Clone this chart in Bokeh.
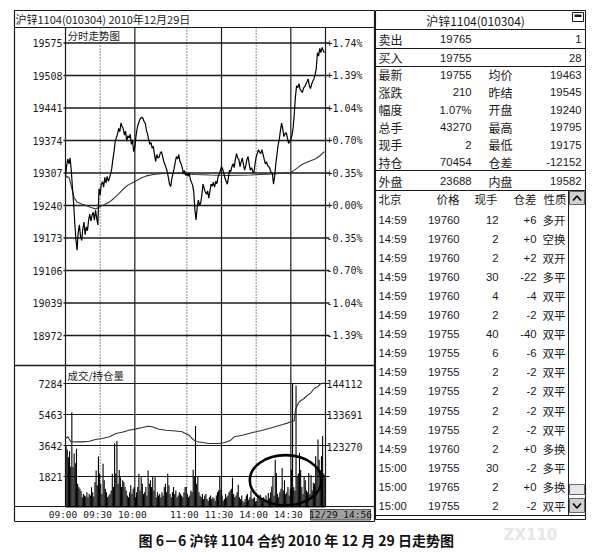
from bokeh.plotting import figure
from bokeh.models import Range1d, ColumnDataSource
from bokeh.core.properties import value
from bokeh.embed import file_html
from bokeh.resources import INLINE

# ---------------- data ----------------
header_text = "沪锌1104(010304) 2010年12月29日"
price_title = "分时走势图"
vol_title = "成交/持仓量"
price_levels = [19575, 19508, 19441, 19374, 19307, 19240, 19173, 19106, 19039, 18972]
pct_labels = ["+1.74%", "+1.39%", "+1.04%", "+0.70%", "+0.35%", "+0.00%",
              "-0.35%", "-0.70%", "-1.04%", "-1.39%"]
vol_levels = [7284, 5463, 3642, 1821]
oi_levels = [144112, 133691, 123270]
time_ticks = [0, 30, 60, 105, 135, 165, 195]          # trading minutes since 09:00
time_labels = ["09:00", "09:30", "10:00", "11:00", "11:30", "14:00", "14:30"]
grid_dotted = [30, 105, 165]
grid_solid = [60, 135, 195]
session_minutes = 225
last_stamp = "12/29 14:56"

# minute price (trading minutes, price)
price_t = list(range(0, 225))
price_v = [
    19300, 19322, 19336, 19326, 19338, 19312, 19276, 19245, 19205, 19170,
    19148, 19185, 19200, 19176, 19168, 19192, 19206, 19180, 19196, 19188,
    19210, 19222, 19208, 19220, 19226, 19210, 19230, 19214, 19200, 19275,
    19262, 19284, 19289, 19278, 19298, 19286, 19300, 19290, 19296, 19305,
    19316, 19335, 19351, 19372, 19380, 19387, 19399, 19392, 19410, 19403,
    19398, 19385, 19393, 19372, 19384, 19379, 19387, 19366, 19375, 19351,
    19360, 19383, 19399, 19408, 19415, 19420, 19422, 19420, 19413, 19410,
    19395, 19387, 19375, 19366, 19370, 19358, 19362, 19345, 19331, 19345,
    19338, 19340, 19348, 19351, 19342, 19331, 19325, 19318, 19310, 19298,
    19284, 19279, 19295, 19306, 19316, 19330, 19341, 19336, 19345, 19331,
    19326, 19318, 19306, 19312, 19302, 19306, 19300, 19307, 19295, 19288,
    19282, 19268, 19230, 19210, 19238, 19251, 19240, 19245, 19262, 19284,
    19275, 19268, 19263, 19270, 19255, 19270, 19284, 19280, 19288, 19278,
    19290, 19285, 19299, 19305, 19312, 19320, 19315, 19307, 19296, 19290,
    19284, 19298, 19313, 19310, 19320, 19326, 19318, 19335, 19347, 19338,
    19335, 19320, 19330, 19338, 19325, 19313, 19322, 19335, 19341, 19325,
    19313, 19318, 19310, 19307, 19325, 19340, 19347, 19355, 19350, 19347,
    19355, 19345, 19335, 19326, 19330, 19322, 19320, 19315, 19308, 19307,
    19284, 19300, 19326, 19345, 19365, 19376, 19395, 19410, 19398, 19382,
    19388, 19390, 19380, 19368, 19372, 19376, 19385, 19400, 19430, 19465,
    19487, 19483, 19491, 19480, 19476, 19473, 19482, 19485, 19490, 19495,
    19501, 19487, 19481, 19490, 19496, 19501, 19510, 19522, 19555, 19548,
    19564, 19555, 19566, 19560, 19555,
]

# average price line
avg_t = [0, 3, 5, 7.5, 10, 14, 18, 22, 26, 30, 34, 38, 42, 46, 50, 54, 58, 62,
         66, 70, 76, 84, 100, 112, 125, 140, 160, 180, 195, 198, 201, 205, 210,
         216, 220, 224]
avg_v = [19300, 19298, 19280, 19256, 19247, 19243, 19240, 19236, 19233, 19238,
         19242, 19247, 19255, 19264, 19274, 19282, 19287, 19292, 19297, 19301,
         19304, 19306, 19306, 19304, 19303, 19302, 19303, 19305, 19308, 19313,
         19318, 19325, 19330, 19336, 19342, 19351]

# volume per minute
volume = [
    3600, 3400, 2950, 3300, 2400, 5600, 2380, 3170, 2600, 3450,
    1390, 1200, 1100, 950, 600, 800, 700, 650, 900, 600,
    800, 700, 1190, 900, 650, 1500, 2180, 1300, 3000, 2000,
    1400, 800, 2570, 1600, 1100, 900, 600, 700, 800, 1000,
    1980, 1200, 3760, 2000, 3900, 1400, 2200, 1780, 1200, 1600,
    1500, 1200, 1000, 700, 600, 900, 1300, 800, 1100, 1200,
    600, 900, 1200, 1980, 1000, 1780, 1400, 800, 900, 1200,
    700, 2180, 1400, 1600, 1200, 1800, 1000, 1780, 600, 900,
    700, 800, 600, 900, 700, 1200, 1400, 900, 1980, 1300,
    800, 600, 900, 1200, 800, 1000, 600, 700, 900, 800,
    700, 600, 900, 1200, 1200, 800, 600, 700, 1000, 900,
    2220, 1800, 4790, 1400, 1800, 900, 700, 600, 800, 500,
    700, 800, 500, 400, 600, 700, 500, 600, 550, 400,
    700, 900, 1000, 1800, 1050, 700, 400, 500, 800, 600,
    700, 900, 1000, 1100, 1750, 800, 600, 700, 900, 1330,
    600, 500, 700, 400, 300, 500, 700, 800, 450, 600,
    1000, 500, 550, 600, 350, 400, 700, 550, 750, 500,
    400, 600, 450, 700, 450, 850, 550, 900, 1230, 1820,
    700, 2810, 2020, 800, 600, 900, 1100, 2320, 1000, 1600,
    800, 900, 1200, 700, 1100, 2220, 7270, 1200, 1000, 7170,
    1800, 2000, 3210, 2200, 1200, 800, 1800, 1600, 1000, 900,
    2020, 800, 1900, 1000, 1450, 1400, 3010, 2200, 4000, 2800,
    2200, 3010, 4200, 2000, 1900,
]
vol_t = [i + 0.5 for i in range(len(volume))]

# open interest line
oi_t = [0, 2, 4.6, 9, 15, 20.5, 26, 32, 38, 43.6, 49, 55, 61, 66.6, 71, 75, 81,
        87, 95, 101, 104, 107, 110, 113, 124, 133, 138, 143, 146, 153, 162,
        170.5, 179, 188, 192, 195, 197.9, 199.3, 202.2, 206.5, 209.4, 212.3,
        215.2, 218, 221, 224]
oi_v = [125900, 126480, 124830, 124800, 124800, 125000, 125590, 125920, 126480,
        127570, 128000, 128660, 129100, 129560, 129990, 129800, 128990, 128660,
        128400, 128130, 127500, 127010, 125700, 124900, 124260, 124260, 124600,
        125350, 126480, 127010, 127900, 128660, 129550, 130550, 131000, 131440,
        131700, 135840, 138060, 139150, 140240, 141000, 142460, 143000, 144110,
        144300]

# hand-drawn highlight ellipse (minute centre, volume centre, span in minutes, span in volume)
mark_t, mark_v, mark_w, mark_h = 190.5, 1600, 62, 2950

# quote table
quote_title = "沪锌1104(010304)"
q_label1 = ["卖出", "买入", "最新", "涨跌", "幅度", "总手", "现手", "持仓", "外盘"]
q_value1 = ["19765", "19755", "19755", "210", "1.07%", "43270", "2", "70454", "23688"]
q_label2 = ["", "", "均价", "昨结", "开盘", "最高", "最低", "仓差", "内盘"]
q_value2 = ["1", "28", "19463", "19545", "19240", "19795", "19175", "-12152", "19582"]

tick_header = ["北京", "价格", "现手", "仓差", "性质"]
tick_time = ["14:59"] * 13 + ["15:00"] * 3
tick_price = [19760, 19760, 19760, 19760, 19760, 19760, 19755, 19755,
              19755, 19755, 19755, 19755, 19760, 19755, 19765, 19755]
tick_hand = [12, 2, 2, 30, 4, 2, 40, 6, 2, 2, 2, 2, 2, 30, 2, 2]
tick_oi = ["+6", "+0", "+2", "-22", "-4", "-2", "-40", "-6",
           "-2", "-2", "-2", "-2", "+0", "-2", "+0", "-2"]
tick_kind = ["多开", "空换", "双开", "多平", "双平", "双平", "双平", "双平",
             "双平", "双平", "双平", "双平", "多换", "多平", "多换", "双平"]

caption = "图 6－6   沪锌 1104 合约 2010 年 12 月 29 日走势图"
watermark = "ZX110"

# ---------------- layout (page pixels) ----------------
PX0, PX1, PY0, PY1 = 0, 600, 0, 550
CL, CR = 65.0, 325.0            # chart frame left/right
LL, LR = 14, 374                # left panel outer
TOP, HDR, SEP, TAXIS, BOT = 10, 27, 365, 506, 521
RL, RR = 375, 585               # right panel


def yrange(pa, va, pb, vb):
    k = (vb - va) / (pb - pa)
    return Range1d(start=va + (PY1 - pa) * k, end=va + (PY0 - pa) * k)


kx = (CR - CL) / session_minutes
p = figure(width=PX1 - PX0, height=PY1 - PY0, output_backend="svg",
           toolbar_location=None, x_range=Range1d(PX0, PX1),
           y_range=Range1d(PY1, PY0), x_axis_location=None,
           y_axis_location=None, min_border=0)
p.outline_line_color = None
p.xgrid.visible = False
p.ygrid.visible = False
p.background_fill_color = "white"
p.border_fill_color = "white"

p.extra_x_ranges = {"t": Range1d(start=(PX0 - CL) / kx, end=(PX1 - CL) / kx)}
p.extra_y_ranges = {
    "price": yrange(42.5, price_levels[0], 335.0, price_levels[-1]),
    "vol": yrange(507.0, 0, 383.0, vol_levels[0]),
    "oi": yrange(383.0, oi_levels[0], 446.0, oi_levels[-1]),
}

INK = "#1a1a1a"
CJK = "Noto Sans CJK SC"
MONO = "DejaVu Sans Mono"
SANS = "Liberation Sans"


def T(xs, ys, texts, size, font=CJK, align="left", color=INK, style="normal",
      xr="default", yr="default", baseline="middle"):
    src = ColumnDataSource(dict(x=list(xs), y=list(ys), text=[str(t) for t in texts]))
    p.text(x="x", y="y", text="text", source=src, text_font=value(font),
           text_font_size=value(size), text_align=align, text_baseline=baseline,
           text_color=color, text_font_style=style, x_range_name=xr, y_range_name=yr)


def S(x0, y0, x1, y1, color=INK, width=1.0, dash="solid", xr="default", yr="default"):
    n = max(len(v) if isinstance(v, list) else 1 for v in (x0, y0, x1, y1))
    f = lambda v: v if isinstance(v, list) else [v] * n
    p.segment(x0=f(x0), y0=f(y0), x1=f(x1), y1=f(y1), line_color=color,
              line_width=width, line_dash=dash, x_range_name=xr, y_range_name=yr)


# ---- left panel frame ----
S([LL, LL, LL, LR], [TOP, BOT, TOP, TOP], [LR, LR, LL, LR], [TOP, BOT, BOT, BOT], width=1.2)
S(LL, HDR, LR, HDR)
S(LL, SEP, LR, SEP, width=1.4)
S(LL, TAXIS, LR, TAXIS)
S([CL, CR], HDR, [CL, CR], TAXIS, width=1.2)
T([15], [18.5], [header_text], "11px")

# grid lines
S(grid_solid, HDR, grid_solid, TAXIS, width=1.2, xr="t")
S(grid_dotted, HDR, grid_dotted, TAXIS, width=1, dash="1 2", xr="t")
S(63, price_levels, 329, price_levels, width=1.3, yr="price")
S(63, vol_levels, 329, vol_levels, width=1.2, yr="vol")

T([67], [34.5], [price_title], "10.5px")
T([67], [375], [vol_title], "10.5px")

# axis labels
T([62] * len(price_levels), price_levels, price_levels, "10px", font=MONO,
  align="right", yr="price")
T([326] * len(pct_labels), price_levels, pct_labels, "10px", font=MONO, yr="price")
T([62] * len(vol_levels), vol_levels, vol_levels, "10px", font=MONO,
  align="right", yr="vol")
T([326] * len(oi_levels), oi_levels, oi_levels, "10px", font=MONO, yr="oi")
src_tl = ColumnDataSource(dict(x=time_ticks, y=[513.5] * len(time_ticks), text=time_labels))
p.text(x="x", y="y", text="text", source=src_tl, text_font=value(MONO),
       text_font_size=value("9.5px"), text_align="center", text_baseline="middle",
       text_color=INK, x_offset=-2.5, x_range_name="t")
p.quad(left=[310], right=[370], top=[509], bottom=[519.5], fill_color="#a0a0a0",
       line_color="#555", line_width=1)
T([340], [514.3], [last_stamp], "9.5px", font=MONO, align="center", color="#111")

# price & average lines
p.line(avg_t, avg_v, line_color="#333", line_width=1.1, x_range_name="t", y_range_name="price")
p.line(price_t, price_v, line_color="#000", line_width=1.2, x_range_name="t", y_range_name="price")

# volume bars & open interest
p.vbar(x=vol_t, top=volume, bottom=0, width=0.95, fill_color="#000", line_color=None,
       x_range_name="t", y_range_name="vol")
p.line(oi_t, oi_v, line_color="#333", line_width=1.1, x_range_name="t", y_range_name="oi")
p.ellipse(x=[mark_t], y=[mark_v], width=[mark_w], height=[mark_h], fill_color=None,
          line_color="#000", line_width=2.6, x_range_name="t", y_range_name="vol")

# ---- right panel ----
S([RL, RL, RL, RL, RL, RL, RL, RL, RL, RR],
  [TOP, 29, 48, 66, 170, 190, 515, 519, TOP, TOP],
  [RR, RR, RR, RR, RR, RR, RR, RR, RL, RR],
  [TOP, 29, 48, 66, 170, 190, 515, 519, 519, 519], width=1.1)
T([475], [19.5], [quote_title], "12px", align="center")
p.quad(left=[572], right=[583], top=[12], bottom=[21], fill_color="white",
       line_color=INK, line_width=1)
p.quad(left=[574], right=[581], top=[14], bottom=[16.5], fill_color=INK, line_color=None)

q_rows = [38.5, 57, 74, 91.5, 109, 126.5, 144, 161.5, 180.5]
T([378] * len(q_label1), q_rows, q_label1, "12px")
T([471] * len(q_value1), q_rows, q_value1, "11.3px", font=SANS, align="right")
l2 = [(y, t) for y, t in zip(q_rows, q_label2) if t]
T([488] * len(l2), [y for y, _ in l2], [t for _, t in l2], "12px")
T([581] * len(q_value2), q_rows, q_value2, "11.3px", font=SANS, align="right")

T([378], [198.5], [tick_header[0]], "11.5px")
T([459, 497, 536], [198.5] * 3, tick_header[1:4], "11.5px", align="right")
T([543], [198.5], [tick_header[4]], "11.5px")
rows = [219 + 19.1 * i for i in range(len(tick_time))]
T([378] * len(rows), rows, tick_time, "11.3px", font=SANS)
T([459] * len(rows), rows, tick_price, "11.3px", font=SANS, align="right")
T([498] * len(rows), rows, tick_hand, "11.3px", font=SANS, align="right")
T([536] * len(rows), rows, tick_oi, "11.3px", font=SANS, align="right")
T([542] * len(rows), rows, tick_kind, "11.5px")

# scrollbar
S(568, 190, 568, 515, width=1)
p.quad(left=[569, 569, 569], right=[584, 584, 584], top=[191, 484, 498],
       bottom=[204, 494, 512], fill_color=["#d0d0d0", "#e6e6e6", "#d0d0d0"],
       line_color="#666", line_width=1)
p.line([572.5, 576.5, 580.5], [200, 195.5, 200], line_color="#000", line_width=1.6)
p.line([572.5, 576.5, 580.5], [503, 507.5, 503], line_color="#000", line_width=1.6)

# caption and watermark
T([299], [539.5], [caption], "14px", align="center", style="bold", color="#111")
T([503], [534], [watermark], "15px", font="DejaVu Sans", color="#e6e6e6", style="bold")

open("out.html", "w").write(file_html(p, INLINE))
